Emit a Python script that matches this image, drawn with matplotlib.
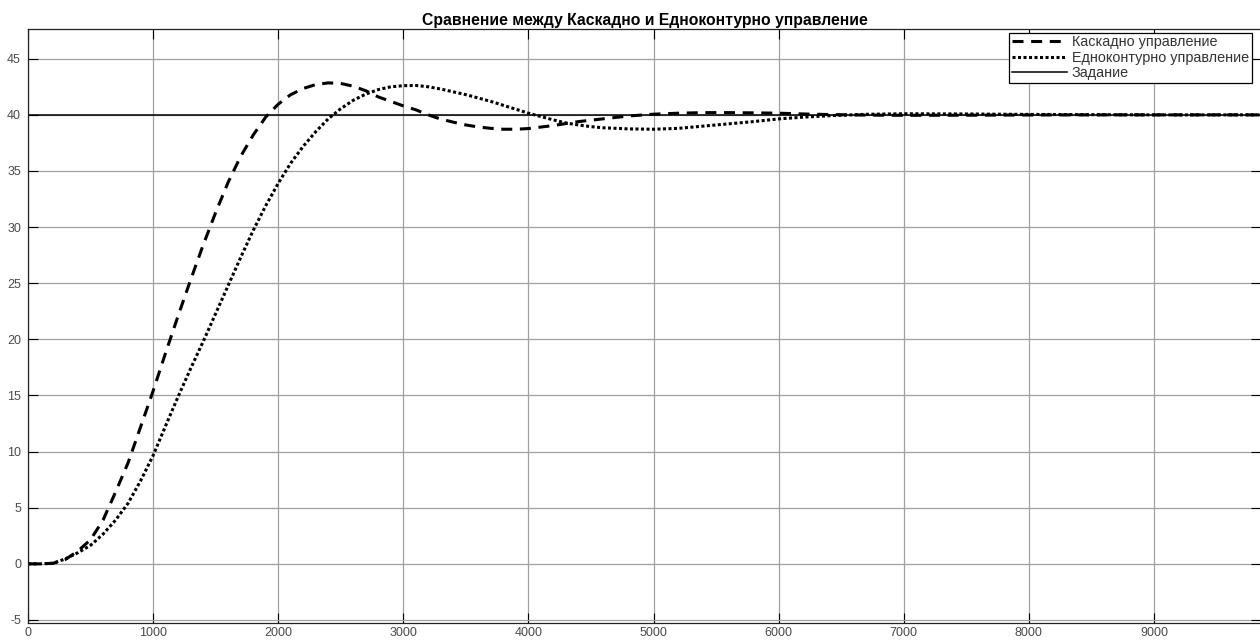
import matplotlib.pyplot as plt

plt.rcParams['font.family'] = ['Liberation Sans', 'DejaVu Sans']
plt.rcParams['axes.unicode_minus'] = False

# --- data (time, output) ---
t_cascade = [0, 100, 200, 300, 400, 500, 600, 700, 800, 900, 1000, 1100, 1200,
             1300, 1400, 1500, 1600, 1700, 1800, 1900, 2000, 2100, 2200, 2300,
             2400, 2500, 2600, 2700, 2800, 2900, 3000, 3100, 3200, 3300, 3400,
             3500, 3600, 3700, 3800, 3900, 4000, 4200, 4400, 4600, 4800, 5000,
             5200, 5400, 5600, 5800, 6000, 6200, 6400, 6700, 7000, 7500, 8000,
             8500, 9000, 9500, 9850]
y_cascade = [0, 0, 0.05, 0.4, 1.15, 2.15, 3.9, 6.4, 9.0, 12.2, 15.4, 18.8, 22.1,
             25.3, 28.4, 31.3, 34.0, 36.3, 38.2, 39.8, 40.95, 41.8, 42.35, 42.7,
             42.85, 42.8, 42.55, 42.15, 41.6, 41.2, 40.8, 40.45, 40.0, 39.62,
             39.35, 39.1, 38.92, 38.8, 38.72, 38.72, 38.78, 39.05, 39.4, 39.65,
             39.9, 40.06, 40.15, 40.2, 40.2, 40.18, 40.15, 40.08, 40.03, 39.98,
             39.96, 39.97, 39.99, 40.0, 40.0, 40.0, 40.0]

t_single = [0, 100, 200, 300, 400, 500, 600, 700, 800, 900, 1000, 1100, 1200,
            1300, 1400, 1500, 1600, 1700, 1800, 1900, 2000, 2100, 2200, 2300,
            2400, 2500, 2600, 2700, 2800, 2900, 3000, 3100, 3200, 3300, 3400,
            3500, 3600, 3700, 3800, 3900, 4000, 4100, 4200, 4300, 4400, 4500,
            4600, 4800, 5000, 5200, 5400, 5600, 5800, 6000, 6200, 6400, 6700,
            7000, 7500, 8000, 8500, 9000, 9500, 9850]
y_single = [0, 0, 0.05, 0.45, 1.0, 1.65, 2.65, 3.9, 5.4, 7.4, 9.65, 12.3, 14.9,
            17.4, 19.8, 22.3, 24.8, 27.3, 29.7, 31.9, 33.9, 35.7, 37.2, 38.5,
            39.65, 40.55, 41.3, 41.85, 42.25, 42.5, 42.6, 42.62, 42.5, 42.3,
            42.05, 41.8, 41.5, 41.2, 40.85, 40.5, 40.15, 39.85, 39.55, 39.28,
            39.1, 38.95, 38.85, 38.75, 38.72, 38.8, 39.0, 39.2, 39.4, 39.64,
            39.8, 39.92, 40.05, 40.1, 40.08, 40.04, 40.02, 40.0, 40.0, 40.0]

t_setpoint = [0, 9850]
y_setpoint = [40, 40]

labels = ['Каскадно управление', 'Едноконтурно управление', 'Задание']
title = 'Сравнение между Каскадно и Едноконтурно управление'

fig = plt.figure(figsize=(12.6, 6.41), dpi=100)
ax = fig.add_axes([28 / 1260, 18 / 641, 1233 / 1260, 594 / 641])

ax.plot(t_cascade, y_cascade, color='black', lw=2.2,
        linestyle=(0, (3.6, 2.5)), label=labels[0])
ax.plot(t_single, y_single, color='black', lw=2.2,
        linestyle=(0, (1, 0.8)), label=labels[1])
ax.plot(t_setpoint, y_setpoint, color='black', lw=1.1, label=labels[2])

ax.set_xlim(0, 9856)
ax.set_ylim(-5.27, 47.65)
ax.set_xticks(range(0, 10000, 1000))
ax.set_yticks(range(-5, 50, 5))

ax.grid(True, color='#a0a0a0', lw=0.9)
ax.tick_params(direction='in', length=7.5, width=0.8, top=True, right=True,
               labelsize=9, labelcolor='#4a4a4a')
ax.tick_params(axis='y', pad=5)
ax.tick_params(axis='x', pad=3)
for s in ax.spines.values():
    s.set_linewidth(0.9)
    s.set_color('#222222')

ax.set_title(title, fontsize=11.3, fontweight='bold', pad=3)

leg = ax.legend(loc='upper right', fontsize=10.4, handlelength=3.8,
                handletextpad=0.35, labelspacing=0.1, borderpad=0.2,
                borderaxespad=0.25, fancybox=False, framealpha=1,
                edgecolor='black', bbox_to_anchor=(0.9955, 1.0))
leg.get_frame().set_linewidth(0.9)
for txt in leg.get_texts():
    txt.set_color('#333333')

plt.savefig('out.png', dpi=100)
